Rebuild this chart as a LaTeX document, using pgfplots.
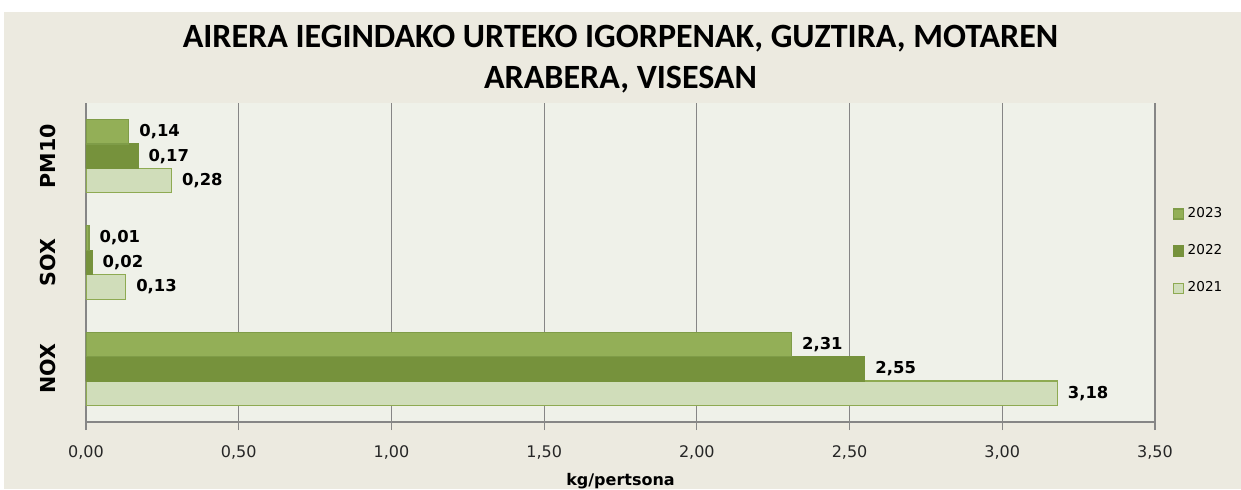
\documentclass[border=0pt]{standalone}
\usepackage{pgfplots}
\pgfplotsset{compat=1.18}
\usepackage{fontspec}
\setmainfont{DejaVu Sans}
\newfontfamily\titlefont{Carlito}
\definecolor{c23}{HTML}{93AF57}
\definecolor{c23d}{HTML}{7F9C48}
\definecolor{c22}{HTML}{76923C}
\definecolor{c21}{HTML}{D0DDBA}
\definecolor{c21d}{HTML}{8EAA52}
\definecolor{plotbg}{HTML}{EFF1E9}
\definecolor{outerbg}{HTML}{ECEAE0}
\definecolor{gridc}{HTML}{868686}

\begin{document}
\begin{tikzpicture}
\useasboundingbox (-43pt,-33.5pt) rectangle (577.5pt,211pt);
\fill[outerbg] (-41pt,-33.5pt) rectangle (577.5pt,205pt);
\begin{axis}[
  at={(0,0)}, anchor=south west,
  scale only axis, width=534.5pt, height=159.5pt,
  xbar=0pt, bar width=0.23,
  xmin=0, xmax=3.5, xtick={0,0.5,1,1.5,2,2.5,3,3.5},
  ymin=-0.5, ymax=2.5, ytick={0,1,2}, yticklabels={NOX,SOX,PM10},
  axis lines*=left, axis line style={gridc, line width=0.6pt, -},
  xmajorgrids, major grid style={gridc, line width=0.6pt},
  tick align=outside, major tick length=4pt,
  xtick style={gridc, line width=0.6pt}, ytick style={draw=none},
  axis background/.style={fill=plotbg},
  xticklabel style={font=\fontsize{8}{9}\selectfont, inner sep=0pt, text=black!85},
  xticklabel shift=7.5pt,
  yticklabel style={font=\bfseries\fontsize{10.3}{11}\selectfont, rotate=90, anchor=south, inner sep=0pt},
  yticklabel shift=11pt,
  /pgf/number format/.cd, use comma, fixed, fixed zerofill, precision=2, assume math mode=true,
  /pgfplots/.cd,
  nodes near coords,
  nodes near coords style={font=\bfseries\fontsize{8.2}{9}\selectfont, anchor=west, inner sep=0pt, xshift=5pt, black},
  legend style={at={(1.016,0.536)}, anchor=west, draw=none, fill=none,
    font=\fontsize{6.8}{8}\selectfont, row sep=8pt, inner sep=0pt},
  legend cell align=left, reverse legend,
  legend image code/.code={\draw[#1] (0pt,-2.5pt) rectangle (5pt,2.5pt);},
]
\addplot[fill=c21, draw=c21d, line width=0.6pt] coordinates {(3.18,0) (0.13,1) (0.28,2)};
\addplot[fill=c22, draw=c22, line width=0.6pt] coordinates {(2.55,0) (0.02,1) (0.17,2)};
\addplot[fill=c23, draw=c23d, line width=0.6pt] coordinates {(2.31,0) (0.01,1) (0.14,2)};
\legend{2021,2022,2023}
\end{axis}
\node[anchor=base, font=\titlefont\bfseries\fontsize{17}{20}\selectfont] at (267.25pt,187.5pt) {AIRERA IEGINDAKO URTEKO IGORPENAK, GUZTIRA, MOTAREN};
\node[anchor=base, font=\titlefont\bfseries\fontsize{17}{20}\selectfont] at (267.25pt,167pt) {ARABERA, VISESAN};
\node[anchor=base, font=\bfseries\fontsize{8}{9}\selectfont] at (267.25pt,-31.5pt) {kg/pertsona};
\end{tikzpicture}
\end{document}
